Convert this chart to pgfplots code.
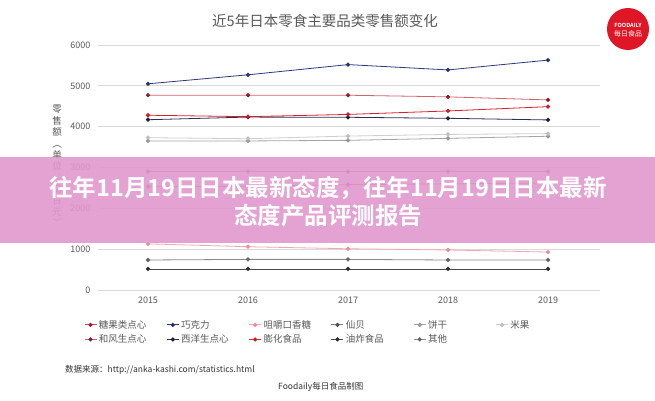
\documentclass[border=0pt]{standalone}
\usepackage{fontspec}
\setmainfont{Noto Sans CJK SC}[BoldFont={Noto Sans CJK SC Bold}]
\usepackage{pgfplots}
\pgfplotsset{compat=1.18}

\definecolor{txt}{RGB}{89,89,89}
\definecolor{gridc}{RGB}{217,217,217}
\definecolor{candyL}{RGB}{214,72,90}   \definecolor{candyM}{RGB}{160,30,50}
\definecolor{chocL}{RGB}{46,58,124}    \definecolor{chocM}{RGB}{40,52,112}
\definecolor{gumL}{RGB}{242,167,176}   \definecolor{gumM}{RGB}{238,141,153}
\definecolor{senL}{RGB}{127,127,127}   \definecolor{senM}{RGB}{77,77,77}
\definecolor{bisL}{RGB}{165,165,165}   \definecolor{bisM}{RGB}{150,150,150}
\definecolor{riceL}{RGB}{207,207,207}  \definecolor{riceM}{RGB}{190,190,190}
\definecolor{waL}{RGB}{210,100,110}    \definecolor{waM}{RGB}{140,30,45}
\definecolor{yoL}{RGB}{43,50,80}       \definecolor{yoM}{RGB}{28,33,56}
\definecolor{snL}{RGB}{212,36,48}      \definecolor{snM}{RGB}{200,30,42}
\definecolor{frL}{RGB}{74,74,74}       \definecolor{frM}{RGB}{43,43,43}
\definecolor{otL}{RGB}{138,138,138}    \definecolor{otM}{RGB}{102,102,102}
\definecolor{banner}{RGB}{224,152,206}
\definecolor{logored}{RGB}{222,22,38}

\newcommand{\LE}[1]{\makebox[65.5pt][l]{#1}}

\begin{document}
\begin{tikzpicture}[x=1pt,y=1pt]
\fill[white] (0,0) rectangle (655,400);

\begin{axis}[
  at={(98pt,110pt)}, anchor=south west,
  scale only axis, width=502pt, height=245pt,
  xmin=2014.5, xmax=2019.52, ymin=0, ymax=6000,
  xtick={2015,2016,2017,2018,2019},
  ytick={0,1000,2000,3000,4000,5000,6000},
  /pgf/number format/1000 sep={},
  /pgf/number format/assume math mode=true,
  axis line style={draw=none}, major tick style={draw=none},
  ymajorgrids, grid style={draw=gridc, line width=0.8pt},
  tick label style={font=\fontsize{9}{10}\selectfont, text=txt},
  yticklabel style={xshift=-4pt},
  xticklabel style={yshift=-3pt},
  every axis plot/.append style={line width=0.8pt, mark=*, mark size=1.7pt},
  legend columns=6,
  legend style={at={(-0.028,-0.114)}, anchor=north west, draw=none, fill=none,
    font=\fontsize{9.5}{11}\selectfont, text=txt, row sep=1pt, column sep=0pt,
    inner sep=0pt},
  legend cell align=left,
  legend image code/.code={\draw[mark repeat=2,mark phase=2,#1]
    plot coordinates {(0pt,0pt) (6pt,0pt) (12pt,0pt)};},
]
\addplot[candyL, mark options={fill=candyM, draw=candyM}] coordinates {
  (2015,2530) (2016,2540) (2017,2580) (2018,2600) (2019,2620)};
\addlegendentry{\LE{糖果类点心}}
\addplot[chocL, mark options={fill=chocM, draw=chocM}] coordinates {
  (2015,5050) (2016,5270) (2017,5520) (2018,5390) (2019,5630)};
\addlegendentry{\LE{巧克力}}
\addplot[gumL, mark options={fill=gumM, draw=gumM}] coordinates {
  (2015,1130) (2016,1060) (2017,1010) (2018,980) (2019,930)};
\addlegendentry{\LE{咀嚼口香糖}}
\addplot[senL, mark options={fill=senM, draw=senM}] coordinates {
  (2015,2900) (2016,2900) (2017,2900) (2018,2900) (2019,2900)};
\addlegendentry{\LE{仙贝}}
\addplot[bisL, mark options={fill=bisM, draw=bisM}] coordinates {
  (2015,3650) (2016,3650) (2017,3665) (2018,3715) (2019,3765)};
\addlegendentry{\LE{饼干}}
\addplot[riceL, mark options={fill=riceM, draw=riceM}] coordinates {
  (2015,3730) (2016,3705) (2017,3770) (2018,3810) (2019,3830)};
\addlegendentry{\LE{米果}}
\addplot[waL, mark options={fill=waM, draw=waM}] coordinates {
  (2015,4770) (2016,4770) (2017,4770) (2018,4730) (2019,4655)};
\addlegendentry{\LE{和风生点心}}
\addplot[yoL, mark options={fill=yoM, draw=yoM}] coordinates {
  (2015,4170) (2016,4235) (2017,4230) (2018,4205) (2019,4165)};
\addlegendentry{\LE{西洋生点心}}
\addplot[snL, mark options={fill=snM, draw=snM}] coordinates {
  (2015,4280) (2016,4245) (2017,4300) (2018,4385) (2019,4490)};
\addlegendentry{\LE{膨化食品}}
\addplot[frL, mark options={fill=frM, draw=frM}] coordinates {
  (2015,515) (2016,515) (2017,515) (2018,515) (2019,515)};
\addlegendentry{\LE{油炸食品}}
\addplot[otL, mark options={fill=otM, draw=otM}] coordinates {
  (2015,735) (2016,750) (2017,750) (2018,735) (2019,735)};
\addlegendentry{\LE{其他}}
\end{axis}

% title
\node[text=txt, font=\fontsize{14.5}{16}\selectfont] at (325,379) {近5年日本零食主要品类零售额变化};
% y label, stacked
\node[text=txt, font=\fontsize{9.5}{11.4}\selectfont, align=center, inner sep=0pt] at (57,234)
  {零\\售\\额\\︵\\单\\位\\︓\\亿\\日\\元\\︶};
% logo
\fill[logored] (628,371) circle (21);
\node[white, font=\bfseries\fontsize{5.6}{6}\selectfont, inner sep=0pt] at (628,375) {FOODAILY};
\node[white, font=\fontsize{7}{8}\selectfont, inner sep=0pt] at (628,366) {每日食品};
% source
\node[anchor=west, text=black!80, font=\fontsize{8.5}{10}\selectfont, inner sep=0pt] at (65,30)
  {数据来源：http://anka-kashi.com/statistics.html};
\node[anchor=west, text=black!80, font=\fontsize{8.5}{10}\selectfont, inner sep=0pt] at (278,13)
  {Foodaily每日食品制图};
% banner
\fill[banner, opacity=0.9] (0,157) rectangle (655,243);
\node[white, font=\bfseries\fontsize{23.5}{28}\selectfont, inner sep=0pt] at (328,212)
  {往年11月19日日本最新态度，往年11月19日日本最新};
\node[white, font=\bfseries\fontsize{23.5}{28}\selectfont, inner sep=0pt] at (328,184)
  {态度产品评测报告};

\pgfresetboundingbox
\path[use as bounding box] (0,0) rectangle (655,400);
\end{tikzpicture}
\end{document}
